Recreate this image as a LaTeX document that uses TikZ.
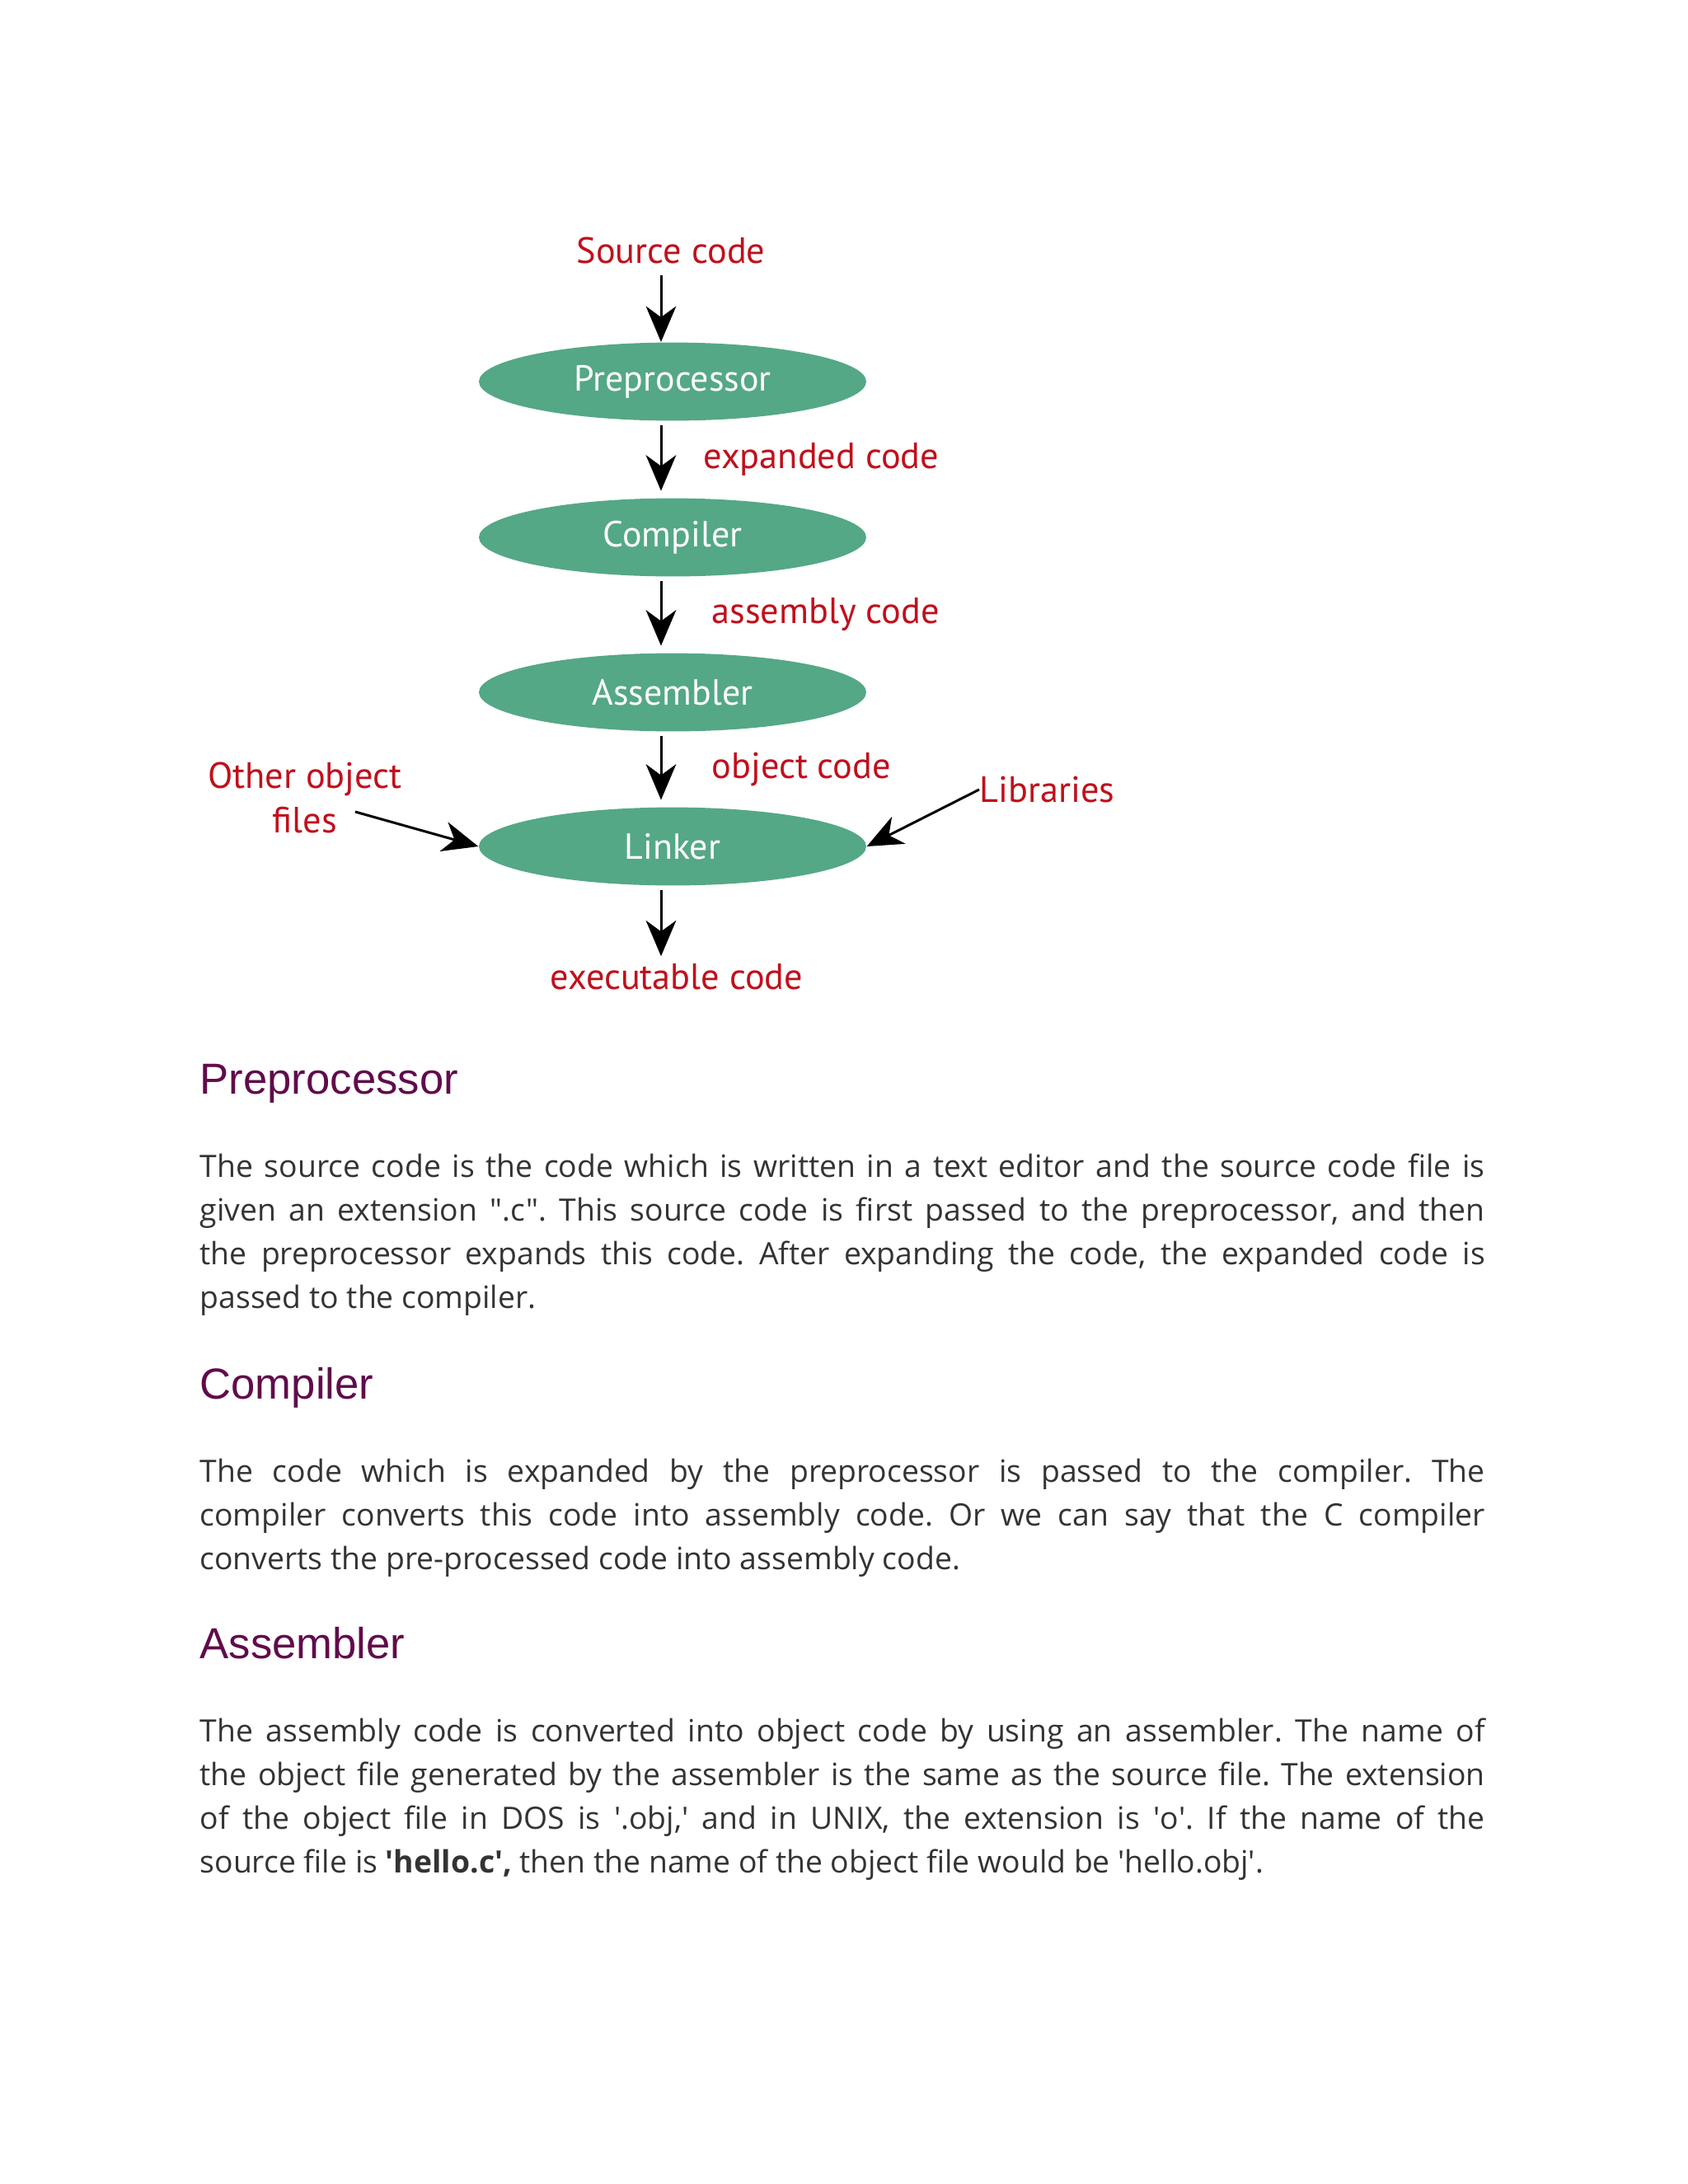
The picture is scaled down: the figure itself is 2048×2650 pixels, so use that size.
\documentclass[tikz,border=0pt]{standalone}
\usepackage{fontspec}
\usepackage{tikz}
\usetikzlibrary{shapes.geometric,arrows.meta,positioning}
\newfontfamily\labelfont{PT Sans}
\newfontfamily\headfont{Liberation Sans}
\newfontfamily\bodyfont{Open Sans}
\definecolor{stagegreen}{RGB}{84,168,134}
\definecolor{labelred}{RGB}{192,16,28}
\definecolor{headpurple}{HTML}{610B4B}
\definecolor{bodygray}{RGB}{51,51,51}
\newcommand{\sq}{\textquotesingle}
\frenchspacing

\begin{document}
\begin{tikzpicture}[x=0.010542cm,y=-0.010542cm,
  stage/.style={ellipse,fill=stagegreen,text=white,minimum width=4.955cm,minimum height=1cm,inner sep=0pt,font=\labelfont\fontsize{13.2}{15}\selectfont},
  lbl/.style={text=labelred,inner sep=0pt,font=\labelfont\fontsize{13.3}{16}\selectfont},
  flow/.style={-{Stealth[length=13pt,width=11pt,inset=4pt]},line width=0.9pt,shorten <=1.5pt,shorten >=2.5pt},
  heading/.style={anchor=base west,inner sep=0pt,text=headpurple,font=\headfont\fontsize{15.8}{18}\selectfont},
  body/.style={anchor=base west,inner sep=0pt,text width=467.7pt,align=justify,text=bodygray,font=\bodyfont\fontsize{11.2}{15.93}\selectfont\frenchspacing}]
  \useasboundingbox (0,0) rectangle (2048,2650);
  \fill[white] (0,0) rectangle (2048,2650);

  % the chain of stages
  \coordinate (axis) at (802,0);
  \node[lbl] (src) at (814,304) {Source code};
  \node[stage] (pre) at (816,463) {Preprocessor};
  \node[stage] (comp) at (816,652) {Compiler};
  \node[stage] (asm) at (816,840) {Assembler};
  \node[stage] (link) at (816,1027) {Linker};
  \node[lbl] (exe) at (821,1185) {executable code};
  \node[lbl,align=center] (other) at (370,968) {Other object\\files};
  \node[lbl,anchor=west] (libs) at (1188,958) {Libraries};
  \coordinate (othertail) at (431,985);

  \draw[flow,shorten <=4pt,shorten >=0pt] (src.south -| axis) -- (pre.north -| axis);
  \draw[flow] (pre.south -| axis) -- node[lbl,right=15pt] {expanded code} (comp.north -| axis);
  \draw[flow] (comp.south -| axis) -- node[lbl,right=18pt] {assembly code} (asm.north -| axis);
  \draw[flow] (asm.south -| axis) -- node[lbl,right=18pt] {object code} (link.north -| axis);
  \draw[flow] (link.south -| axis) -- (exe.north -| axis);
  \draw[flow,shorten <=0pt,shorten >=0pt] (othertail) -- (link.west);
  \draw[flow,shorten <=0pt,shorten >=0pt] (libs.west) -- (link.east);

  % the text below
  \node[heading] (hpre) at (242,1327) {Preprocessor};
  \node[body] (tpre) at (242,1428) {The source code is the code which is written in a text editor and the source code file is\linebreak given an extension ".c". This source code is first passed to the preprocessor, and then\linebreak the preprocessor expands this code. After expanding the code, the expanded code is\linebreak passed to the compiler.};

  \node[heading] (hcomp) at (242,1697) {Compiler};
  \node[body] (tcomp) at (242,1798) {The code which is expanded by the preprocessor is passed to the compiler. The\linebreak compiler converts this code into assembly code. Or we can say that the C compiler\linebreak converts the pre-processed code into assembly code.};

  \node[heading] (hasm) at (242,2012) {Assembler};
  \node[body] (tasm) at (242,2113) {The assembly code is converted into object code by using an assembler. The name of\linebreak the object file generated by the assembler is the same as the source file. The extension\linebreak of the object file in DOS is \sq.obj,\sq{} and in UNIX, the extension is \sq o\sq. If the name of the\linebreak source file is \textbf{\sq hello.c\sq,} then the name of the object file would be \sq hello.obj\sq.};
\end{tikzpicture}
\end{document}
